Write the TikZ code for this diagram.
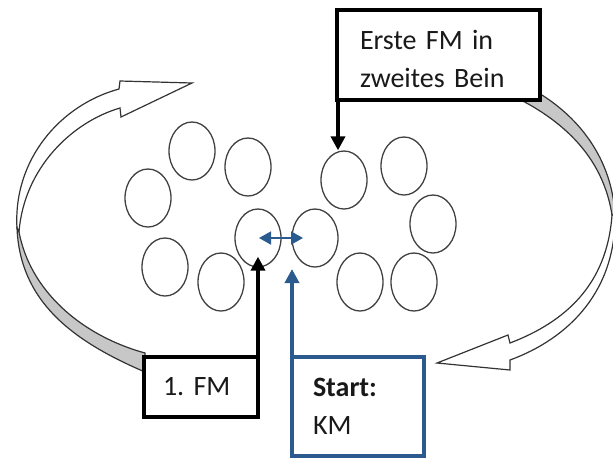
\documentclass[tikz,border=0pt]{standalone}
\usepackage{fontspec}
\setmainfont{Carlito}
\usepackage{xcolor}
\usetikzlibrary{shapes.geometric,arrows.meta}

\definecolor{kmblue}{HTML}{2B5B8E}
\frenchspacing
\newcommand{\boxfont}{\fontsize{28}{38}\selectfont\setlength{\spaceskip}{0.16em}}

\begin{document}
\begin{tikzpicture}[x=1pt, y=-1pt,
    leg/.style={ellipse, draw=black!75, line width=1.3pt, minimum width=46pt, minimum height=58pt, inner sep=0pt},
    fmbox/.style={draw=black, line width=4pt, fill=white, anchor=north west, align=left, inner ysep=0pt, text=black!90, font=\boxfont},
    kmbox/.style={fmbox, draw=kmblue},
    fmarrow/.style={black, line width=3.5pt, -{Triangle[length=14pt,width=14pt]}},
    kmarrow/.style={kmblue, line width=3.5pt, -{Triangle[length=14pt,width=14pt]}},
    kmboth/.style={kmblue, line width=1.8pt, {Triangle[length=12pt,width=13pt]}-{Triangle[length=12pt,width=13pt]}},
    bandfront/.style={draw=black!80, line width=1.2pt, fill=white},
    bandback/.style={draw=black!80, line width=1.2pt, fill=black!22}]
    \useasboundingbox (0,0) rectangle (613,459);

    % big turning arrows
    \filldraw[bandfront] (17,228) .. controls (13,160) and (60,105) .. (119,89) -- (120,81) -- (192,83) -- (121,117) -- (120,108) .. controls (72,122) and (24,168) .. (19,232) -- cycle;
    \filldraw[bandback] (17,228) .. controls (20,300) and (70,340) .. (145,372) -- (145,353) .. controls (80,335) and (30,290) .. (19,232) -- cycle;
    \filldraw[bandback] (530,88) .. controls (580,115) and (612,160) .. (615,215) -- (612,215) .. controls (605,170) and (578,128) .. (515,97) -- cycle;
    \filldraw[bandfront] (615,215) .. controls (616,290) and (570,338) .. (510,360) -- (510,370) -- (437,363) -- (508,335) -- (510,343) .. controls (565,322) and (607,285) .. (612,215) -- cycle;

    % left leg
    \node[leg] (l1) at (192,151) {};
    \node[leg] (l2) at (148,198) {};
    \node[leg] (l3) at (248,167) {};
    \node[leg] (l4) at (165,267) {};
    \node[leg] (l5) at (221,282) {};
    \node[leg] (m1) at (258,238) {};
    % right leg
    \node[leg] (m2) at (315,238) {};
    \node[leg] (r1) at (344,180) {};
    \node[leg] (r2) at (404,166) {};
    \node[leg] (r3) at (433,224) {};
    \node[leg] (r4) at (360,282) {};
    \node[leg] (r5) at (414,282) {};

    \node[fmbox, minimum height=90pt, text width=157pt, inner xsep=23pt] (first) at (335,8) {\rule{0pt}{28pt}Erste FM in\\zweites Bein};
    \node[fmbox, minimum height=60pt, text width=76pt, inner xsep=19pt] (fm) at (142,355) {1. FM};
    \node[kmbox, minimum height=99pt, text width=90pt, inner xsep=21pt] (km) at (290,355) {\textbf{Start:}\\KM};

    \coordinate (kmtip) at (292,269);

    \draw[fmarrow] ([xshift=3pt]first.south west) -- ([xshift=3pt]first.south west |- r1.north);
    \draw[fmarrow] (m1.center |- fm.north) -- ([yshift=11pt]m1.south);
    \draw[kmarrow] (kmtip |- km.north) -- (kmtip);
    \draw[kmboth] ([xshift=1pt]m1.center) -- ([xshift=-12pt]m2.center);
\end{tikzpicture}
\end{document}
